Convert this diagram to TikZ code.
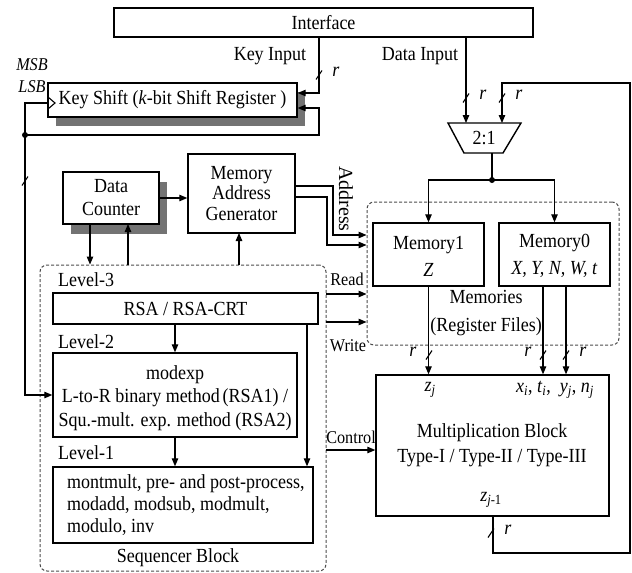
\documentclass[tikz,border=0pt]{standalone}
\usepackage{fontspec}
\setmainfont{Liberation Serif}
\usetikzlibrary{arrows.meta,calc}
\newcommand{\busmark}[1]{\draw[conn] (#1) ++(-3,4.5) -- ++(6,-9);}
\newcommand{\sbi}[1]{\textsubscript{\textit{#1}}}
\begin{document}
\begin{tikzpicture}[x=1pt,y=-1pt,
  box/.style={draw, line width=1.4pt, fill=white, inner sep=0pt},
  tx/.style={inner sep=0pt, xscale=0.9, font=\fontsize{20}{23}\selectfont},
  sm/.style={inner sep=0pt, xscale=0.9, font=\fontsize{18}{21}\selectfont},
  conn/.style={line width=1.1pt},
  arr/.style={conn, -{Triangle[length=8pt,width=6.5pt]}},
  dsh/.style={draw=black!70, line width=1pt, dash pattern=on 3pt off 2pt, rounded corners=7pt, inner sep=0pt},
  shd/.style={fill=black!55, draw=none},
  dot/.style={circle, fill, inner sep=0pt, minimum size=6pt}
]
\useasboundingbox (0,0) rectangle (632,573);

% dashed groups
\node[dsh, minimum width=252, minimum height=143] (mem) at (493,273.5) {};
\node[dsh, minimum width=286, minimum height=306] (seq) at (183,418) {};

% shadows
\fill[shd] (56,92) rectangle (305,126);
\fill[shd] (71,182) rectangle (167,234);

% boxes
\node[box, minimum width=419, minimum height=29] (iface) at (323.5,22.5) {};
\node[box, minimum width=249, minimum height=34] (ks) at (172.5,100) {};
\node[box, minimum width=96, minimum height=52] (dc) at (111,198) {};
\node[box, minimum width=107, minimum height=79] (mag) at (241.5,193.5) {};
\node[box, minimum width=111, minimum height=63] (m1) at (428.5,254.5) {};
\node[box, minimum width=111, minimum height=63] (m0) at (554.5,254.5) {};
\node[box, minimum width=233, minimum height=141] (mb) at (492.5,445.5) {};
\node[box, minimum width=265, minimum height=31] (rsa) at (185.5,308.5) {};
\node[box, minimum width=244, minimum height=84] (mx) at (175,395) {};
\node[box, minimum width=260, minimum height=76] (mm) at (183,505) {};

% multiplexer
\draw[line width=1.4pt, fill=white] (448,123) -- (521,123) -- (503,153) -- (464,153) -- cycle;
\node[tx] (mux) at (484,138) {2:1};
\coordinate (muxa) at (466,123);
\coordinate (muxb) at (502,123);
\coordinate (muxo) at (492,153);

% key input
\coordinate (kib) at (319,93);
\draw[arr] (iface.south -| kib) -- (kib) -- (kib -| ks.east);
\busmark{319,75}
\node[tx] at (336,72) {\textit{r}};

% shift register feedback
\node[dot] (jd) at (25,135) {};
\coordinate (fbr) at (319,108);
\coordinate (ksin) at (48,103);
\draw[arr] (jd.center) -- (jd.center -| fbr) -- (fbr) -- (fbr -| ks.east);
\draw[conn] (ksin) -- (ksin -| jd) -- (jd.center);
\draw[conn] (48,97) -- (55,103) -- (48,109);
\draw[arr] (jd.center) |- (mx.west);
\busmark{25,181}

% data input
\draw[arr] (iface.south -| muxa) -- (muxa);
\busmark{466,98}
\node[tx] at (483,95) {\textit{r}};

% multiplication feedback
\coordinate (fbo) at (493,516);
\coordinate (c1) at (493,553);
\coordinate (c2) at (630,553);
\coordinate (c3) at (630,83);
\coordinate (c4) at (502,83);
\draw[arr] (fbo) -- (c1) -- (c2) -- (c3) -- (c4) -- (muxb);
\busmark{502,98}
\node[tx] at (519,95) {\textit{r}};
\busmark{491,533}
\node[tx] at (508,530) {\textit{r}};

% mux output
\node[dot] (md) at (492,180) {};
\draw[conn] (muxo) -- (md.center);
\draw[arr] (md.center) -| (m1.north);
\draw[arr] (md.center) -| (m0.north);

% memory outputs
\coordinate (m0a) at (543,286);
\coordinate (m0b) at (566,286);
\draw[arr] (m1.south) -- (m1.south |- mb.north);
\draw[arr] (m0a) -- (m0a |- mb.north);
\draw[arr] (m0b) -- (m0b |- mb.north);
\busmark{429,355}
\busmark{543,355}
\busmark{566,355}
\node[tx] at (413,352) {\textit{r}};
\node[tx] at (528,352) {\textit{r}};
\node[tx] at (583,352) {\textit{r}};

% read / write / control
\coordinate (rd) at (326,294);
\coordinate (wr) at (326,322);
\coordinate (ctl) at (326,450);
\draw[arr] (rd) -- (rd -| mem.west);
\draw[arr] (wr) -- (wr -| mem.west);
\draw[arr] (ctl) -- (ctl -| mb.west);
\node[sm] at (347,279) {Read};
\node[sm] at (348,346) {Write};
\node[sm] at (351,437) {Control};

% address
\coordinate (a1) at (295,186);
\coordinate (a1b) at (333,235);
\coordinate (a2) at (295,197);
\coordinate (a2b) at (327,245);
\draw[arr] (a1) -| (a1b) -- (a1b -| mem.west);
\draw[arr] (a2) -| (a2b) -- (a2b -| mem.west);
\node[inner sep=0pt, rotate=-90, font=\fontsize{20}{23}\selectfont] at (346,199) {Address};

% data counter / mag
\draw[arr] (dc.east) -- (dc.east -| mag.west);
\coordinate (dcd) at (90,224);
\coordinate (dcu) at (128,224);
\coordinate (mgu) at (239,233);
\draw[arr] (dcd) -- (dcd |- seq.north);
\draw[arr] (dcu |- seq.north) -- (dcu);
\draw[arr] (mgu |- seq.north) -- (mgu);

% sequencer internals
\coordinate (r1) at (175,324);
\coordinate (r2) at (307,324);
\draw[arr] (r1) -- (r1 |- mx.north);
\draw[arr] (r2) -- (r2 |- mm.north);
\draw[arr] (mx.south) -- (mx.south |- mm.north);

% texts
\node[tx] at (iface) {Interface};
\node[tx] at (270,56) {Key Input};
\node[tx] at (420,56) {Data Input};
\node[tx] at (ks) {Key Shift (\textit{k}-bit Shift Register )};
\node[sm] at (32,65) {\textit{MSB}};
\node[sm] at (32,87) {\textit{LSB}};
\node[tx, align=center] at (dc) {Data\\Counter};
\node[tx, align=center, font=\fontsize{20}{20.5}\selectfont] at (mag) {Memory\\Address\\Generator};
\node[tx, align=center, font=\fontsize{20}{27}\selectfont] at (428.5,256) {Memory1\\\textit{Z}};
\node[tx, align=center, font=\fontsize{20}{27}\selectfont] at (554.5,256) {Memory0\\\textit{X, Y, N, W, t}};
\node[tx, align=center, font=\fontsize{20}{28}\selectfont] at (486,313) {Memories\\(Register Files)};
\node[tx, anchor=west] at (58,280) {Level-3};
\node[tx, anchor=west] at (58,342) {Level-2};
\node[tx, anchor=west] at (58,453) {Level-1};
\node[tx] at (rsa) {RSA / RSA-CRT};
\node[tx, align=center, font=\fontsize{20}{23.5}\selectfont] at (175,398) {modexp\\L-to-R binary method\,(RSA1) /\\Squ.-mult. exp. method (RSA2)};
\node[tx, align=left, anchor=west, font=\fontsize{20}{22}\selectfont] at (67,505) {montmult, pre- and post-process,\\modadd, modsub, modmult,\\modulo, inv};
\node[tx] at (178,558) {Sequencer Block};
\node[tx] at (430,390) {\textit{z}\sbi{j}};
\node[tx] at (555,390) {\textit{x}\sbi{i}, \textit{t}\sbi{i}, \ \textit{y}\sbi{j}, \textit{n}\sbi{j}};
\node[tx, align=center, font=\fontsize{20}{25}\selectfont] at (492,445) {Multiplication Block\\Type-I / Type-II / Type-III};
\node[tx] at (491,500) {\textit{z}\textsubscript{\textit{j}-1}};
\end{tikzpicture}
\end{document}
